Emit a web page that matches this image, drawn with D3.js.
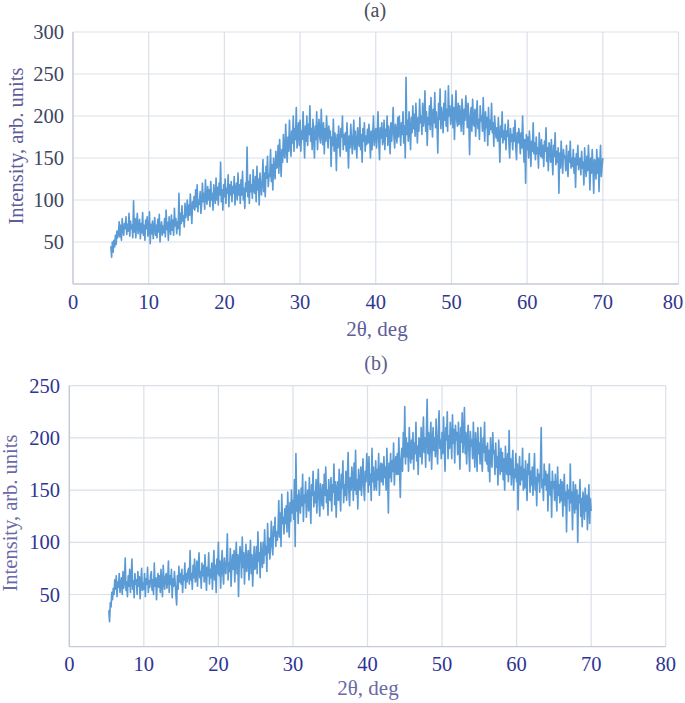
<!DOCTYPE html>
<html><head><meta charset="utf-8">
<script src="https://cdn.jsdelivr.net/npm/d3@7/dist/d3.min.js"></script>
<style>body{margin:0;background:#fff}svg{display:block}</style>
</head><body>
<svg id="c" width="685" height="703"></svg>
<script>
// ---------- DATA ----------
const xStartA = 5.0, xStepA = 0.1;
const intensityA = [
45,32,50,38,52,44,58,47,63,55,
60,74,56,70,52,78,64,58,72,66,
80,59,71,63,84,57,75,66,70,55,
99,62,78,55,73,84,60,69,77,54,
72,61,85,58,70,52,76,66,80,57,
63,86,48,71,60,75,54,68,79,58,
70,55,77,62,83,50,66,74,58,69,
61,78,56,88,65,73,52,80,67,59,
82,64,76,58,90,69,78,60,74,66,
108,58,84,72,93,75,81,68,96,79,
85,100,76,94,82,107,88,72,98,90,
104,88,112,92,118,86,100,95,110,84,
96,120,98,108,89,124,102,95,116,100,
112,92,122,100,108,88,118,104,96,126,
100,115,94,120,106,145,98,112,88,118,
104,125,96,114,108,130,92,118,106,122,
98,116,108,128,94,112,120,100,132,106,
118,96,124,106,134,100,114,90,120,110,
163,104,122,96,130,110,118,102,136,112,
108,128,98,140,112,125,94,132,118,106,
122,148,110,132,104,140,126,152,116,130,
128,160,122,142,112,150,135,125,158,138,
140,165,132,172,150,128,160,145,178,155,
150,190,162,145,175,158,195,166,152,182,
168,200,158,185,172,210,162,178,192,165,
195,158,182,172,205,176,150,188,170,200,
165,190,178,212,170,185,160,196,176,150,
188,172,205,160,182,196,175,168,208,178,
166,192,155,185,170,200,178,162,188,174,
182,140,175,165,196,158,180,170,135,178,
162,188,170,152,185,175,200,160,178,166,
180,158,192,168,138,176,162,190,172,155,
175,195,160,182,168,150,186,172,164,198,
160,178,145,185,170,192,158,176,166,184,
168,190,175,150,182,160,178,200,165,176,
185,162,178,205,170,148,186,174,192,166,
172,195,160,184,176,200,165,188,178,155,
192,170,185,210,176,162,190,182,168,198,
175,200,185,165,192,178,205,168,188,150,
246,178,195,170,205,185,160,198,180,212,
185,202,176,215,190,168,198,182,220,192,
200,178,215,188,196,230,182,205,165,198,
190,212,184,222,198,175,208,192,228,186,
205,188,156,215,196,232,185,210,198,180,
215,195,230,188,208,182,236,200,212,190,
198,225,186,210,172,205,230,195,188,215,
190,212,198,182,220,202,178,208,195,224,
205,186,215,194,154,200,210,182,220,192,
188,208,176,200,218,185,196,172,212,194,
200,182,222,190,170,205,186,198,165,210,
178,195,184,215,180,192,164,200,185,174,
186,170,198,176,145,188,175,205,168,182,
172,190,160,182,176,195,166,150,185,170,
178,160,186,170,195,164,148,180,168,185,
175,155,180,162,200,166,145,172,120,178,
160,175,150,182,165,140,170,158,192,155,
168,148,175,155,162,138,180,160,152,172,
150,165,140,170,158,186,146,162,135,168,
160,145,172,150,130,165,152,180,142,158,
145,162,108,156,138,170,148,132,160,150,
152,135,165,142,128,158,145,170,138,150,
140,160,132,150,115,155,142,165,136,148,
150,130,158,138,145,118,162,140,128,152,
135,165,142,112,150,132,160,138,108,148,
145,125,160,132,150,110,142,165,128,140,
150
];
const xStartB = 5.3, xStepB = 0.1;
const intensityB = [
35,24,42,38,52,45,56,
50,64,55,68,48,62,57,70,52,60,
66,50,72,56,63,85,54,62,48,68,
58,74,52,66,84,55,63,47,70,60,
64,50,72,58,67,46,62,75,54,61,
55,70,48,65,60,76,52,63,57,68,
72,54,64,50,80,58,66,45,62,70,
57,68,52,74,60,48,78,62,55,67,
70,56,64,82,52,68,60,74,47,65,
58,72,62,50,40,68,55,77,62,70,
60,74,52,68,64,80,56,70,62,72,
75,60,92,64,70,55,78,66,84,62,
64,82,58,76,90,66,72,56,80,68,
78,62,88,70,54,76,68,90,60,74,
66,80,55,74,92,64,78,52,84,70,
100,68,82,56,76,92,70,60,85,74,
70,86,108,64,80,72,94,58,78,88,
74,92,62,84,100,70,88,48,82,96,
86,66,105,76,90,60,82,98,72,84,
92,64,84,102,70,88,58,80,96,74,
78,96,70,110,82,90,66,100,84,76,
100,80,112,88,96,72,118,90,104,84,
95,120,100,88,115,106,124,96,110,102,
112,140,105,128,96,146,118,124,108,132,
118,135,110,148,124,105,138,120,150,128,
140,122,160,96,185,130,145,118,150,136,
128,152,135,165,120,145,138,158,124,142,
150,130,162,138,118,155,145,168,134,148,
138,160,128,150,170,140,125,156,146,135,
155,132,165,145,172,138,150,126,160,142,
140,162,130,155,148,175,136,158,124,150,
158,140,170,146,130,165,152,178,138,155,
145,168,140,160,186,148,135,162,150,172,
162,140,176,150,188,146,160,132,170,156,
150,172,145,165,180,152,140,168,158,185,
170,148,182,155,165,140,190,158,172,150,
156,178,150,170,160,185,145,168,176,158,
175,155,182,162,172,150,190,165,128,176,
162,185,158,178,168,195,155,175,182,165,
185,165,200,172,143,180,190,168,205,182,
230,175,200,182,195,168,210,188,176,198,
180,205,170,195,185,215,178,192,165,200,
198,182,210,175,195,220,186,200,172,205,
237,185,205,178,198,215,170,195,210,188,
200,182,218,192,175,205,226,190,198,180,
205,185,220,192,168,210,198,225,180,202,
190,215,200,180,222,195,208,176,212,198,
205,184,215,192,170,210,196,224,186,200,
229,185,205,175,198,212,188,168,206,192,
198,180,215,188,172,205,192,168,210,185,
195,175,210,182,168,200,186,215,178,192,
175,195,168,188,158,200,180,172,205,185,
188,165,195,172,182,155,198,176,165,190,
168,186,160,180,150,192,172,165,185,158,
207,165,180,155,175,188,150,170,162,185,
158,175,131,168,182,155,172,160,190,150,
170,152,178,160,140,175,165,185,148,168,
155,172,145,165,185,150,162,135,170,158,
165,148,172,210,152,160,140,175,155,168,
150,165,130,160,175,145,158,124,168,152,
158,140,165,148,130,172,145,155,138,160,
140,158,125,150,165,135,148,110,155,142,
150,130,175,138,148,112,158,140,128,155,
132,150,100,145,138,160,125,142,115,148,
140,122,152,130,145,112,138,155,118,142,
130
];
const xTicks = [0,10,20,30,40,50,60,70,80];
const yTicksA = [50,100,150,200,250,300];
const yTicksB = [50,100,150,200,250];
const titles = ["(a)", "(b)"];
const xTitle = "2θ, deg";
const yTitle = "Intensity, arb. units";

// ---------- DRAW ----------
const svg = d3.select("#c");
const FONT = "'Liberation Serif','Times New Roman',serif";
const LINE = "#5b9bd5", GRID = "#dadfe8", AXIS = "#c3cad8";
const W = 685;

function panel(cfg) {
  const x = d3.scaleLinear().domain([0, 80]).range([cfg.x0, cfg.x1]);
  const y = d3.scaleLinear().domain([0, cfg.ymax]).range([cfg.y0, cfg.y1]);
  const g = svg.append("g");
  g.selectAll(".hg").data(cfg.yTicks).join("line")
    .attr("x1", cfg.x0).attr("x2", cfg.x1)
    .attr("y1", d => y(d)).attr("y2", d => y(d))
    .attr("stroke", GRID).attr("stroke-width", 1.2);
  g.selectAll(".vg").data(xTicks.filter(d => d > 0)).join("line")
    .attr("x1", d => x(d)).attr("x2", d => x(d))
    .attr("y1", cfg.y0).attr("y2", cfg.y1)
    .attr("stroke", GRID).attr("stroke-width", 1.2);
  g.append("line").attr("x1", cfg.x0).attr("x2", cfg.x1).attr("y1", cfg.y0).attr("y2", cfg.y0)
    .attr("stroke", AXIS).attr("stroke-width", 1.3);
  g.append("line").attr("x1", cfg.x0).attr("x2", cfg.x0).attr("y1", cfg.y0).attr("y2", cfg.y1)
    .attr("stroke", AXIS).attr("stroke-width", 1.5);
  const pts = cfg.data.map((v, i) => [cfg.xs + i * cfg.step, v]);
  g.append("path").datum(pts)
    .attr("fill", "none").attr("stroke", LINE).attr("stroke-width", 1.65)
    .attr("stroke-linejoin", "round")
    .attr("d", d3.line().x(d => x(d[0])).y(d => y(d[1])));
  g.selectAll(".yl").data(cfg.yTicks).join("text")
    .attr("x", cfg.yLabX).attr("y", d => y(d)).attr("dy", "0.35em")
    .attr("text-anchor", "end").attr("font-family", FONT).attr("font-size", 20.5)
    .attr("fill", cfg.yTickColor).text(d => d);
  g.selectAll(".xl").data(xTicks).join("text")
    .attr("x", d => Math.min(x(d), W - 12)).attr("y", cfg.xLabY).attr("dy", "0.35em")
    .attr("text-anchor", "middle").attr("font-family", FONT).attr("font-size", 20.5)
    .attr("fill", cfg.xTickColor).text(d => d);
  g.append("text").attr("x", cfg.xTitleX).attr("y", cfg.xTitleY)
    .attr("text-anchor", "middle").attr("font-family", FONT).attr("font-size", 21)
    .attr("fill", cfg.titleColor).text(xTitle);
  g.append("text")
    .attr("transform", `translate(${cfg.yTitleX},${cfg.yTitleY}) rotate(-90)`)
    .attr("text-anchor", "middle").attr("dy", "0.35em")
    .attr("font-family", FONT).attr("font-size", 20.5)
    .attr("fill", cfg.titleColor).text(yTitle);
  g.append("text").attr("x", cfg.tX).attr("y", cfg.tY)
    .attr("text-anchor", "middle").attr("font-family", FONT).attr("font-size", 20)
    .attr("fill", cfg.tColor).text(cfg.title);
}

panel({
  data: intensityA, xs: xStartA, step: xStepA, ymax: 300, yTicks: yTicksA,
  x0: 73, x1: 678.5, y0: 284, y1: 32,
  yLabX: 64, xLabY: 302, yTickColor: "#3d4660", xTickColor: "#31378f",
  xTitleX: 377, xTitleY: 336, yTitleX: 16, yTitleY: 146,
  titleColor: "#5d5d98", title: titles[0], tX: 375, tY: 17, tColor: "#4a4a5a"
});
panel({
  data: intensityB, xs: xStartB, step: xStepB, ymax: 250, yTicks: yTicksB,
  x0: 69.3, x1: 665.7, y0: 646.7, y1: 385.7,
  yLabX: 60, xLabY: 664, yTickColor: "#2f3592", xTickColor: "#2f3592",
  xTitleX: 368, xTitleY: 695, yTitleX: 10, yTitleY: 513,
  titleColor: "#6a6aa6", title: titles[1], tX: 376, tY: 370, tColor: "#5c5c8c"
});
</script>
</body></html>
